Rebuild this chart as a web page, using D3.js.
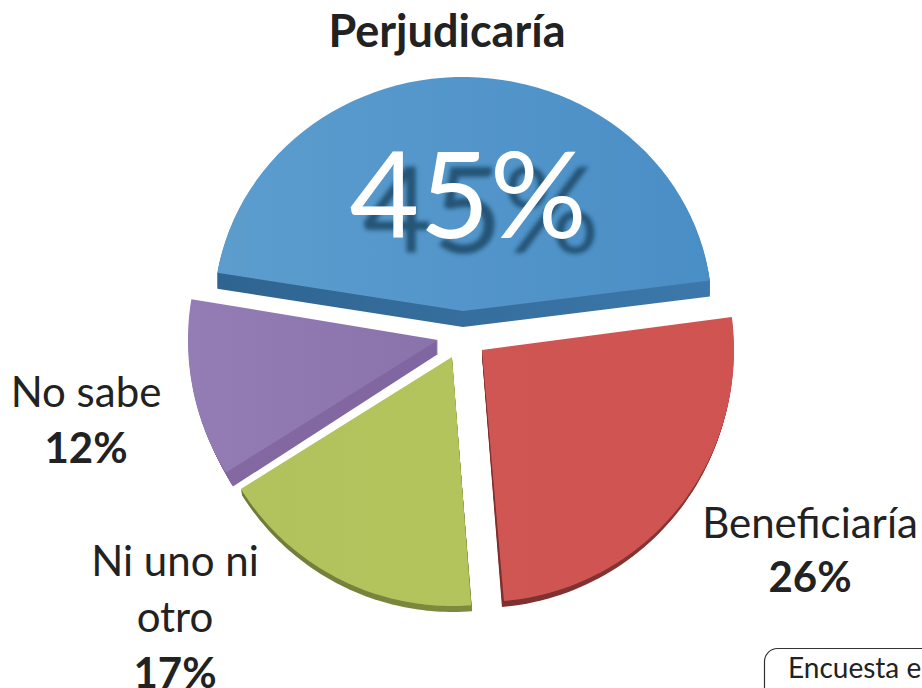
<!DOCTYPE html>
<html><head><meta charset="utf-8">
<style>html,body{margin:0;padding:0;background:#fff;overflow:hidden}svg{display:block}text{font-family:Lato,"Open Sans",sans-serif;fill:#222}</style>
<script src="https://cdn.jsdelivr.net/npm/d3@7"></script>
</head><body>
<script>
const categories = ["Perjudicaría", "Beneficiaría", "Ni uno ni otro", "No sabe"];
const values = [45, 26, 17, 12];
const valueLabels = ["45%", "26%", "17%", "12%"];
const title = "Perjudicaría";
const note = "Encuesta e";

const W = 922, H = 688;
const svg = d3.select("body").append("svg").attr("width", W).attr("height", H);
const defs = svg.append("defs");
const rad = Math.PI / 180;

// per-slice look: apex, squash of the far half, extrusion, small angular nudges from the 3D tilt
const looks = [
  {ax:463, ay:311, r:249, up:.94, dx:0, dy:16, n0:0,   n1:1.1,  c0:"#5c9dce", c1:"#4a8ec6", s0:"#2f6490", s1:"#3c78ab"},
  {ax:482, ay:350, r:252, up:1,   dx:-2,dy:6,  n0:1.1, n1:0,    c0:"#cf5654", c1:"#cf5351", s0:"#7c2f2e", s1:"#8d3533"},
  {ax:452, ay:357, r:249, up:1,   dx:1, dy:6,  n0:.6,  n1:1.8,  c0:"#b1c25e", c1:"#b4c45c", s0:"#6f7a38", s1:"#7f8c3f"},
  {ax:438, ay:340, r:250, up:1,   dx:7, dy:14, n0:1.8, n1:0,    c0:"#947cb5", c1:"#8a73ab", s0:"#8468a2", s1:"#8066a0"}
];

const pie = d3.pie().sort(null).value(d => d)
  .startAngle(-80.6 * rad).endAngle(279.4 * rad);
const arcs = pie(values);

function outline(a, L, off) {
  const n = 60, pts = [[L.ax, L.ay + off]];
  const t0 = a.startAngle + L.n0 * rad, t1 = a.endAngle + L.n1 * rad;
  d3.range(n + 1).forEach(i => {
    const t = t0 + (t1 - t0) * i / n;
    const s = Math.sin(t), c = Math.cos(t);
    pts.push([L.ax + L.r * s + L.dx * off / L.dy, L.ay - L.r * c * (c > 0 ? L.up : 1) + off]);
  });
  return pts;
}
const line = d3.line().curve(d3.curveLinearClosed);

const gBlur = defs.append("filter").attr("id","blur").attr("x","-20%").attr("y","-20%").attr("width","140%").attr("height","140%");
gBlur.append("feGaussianBlur").attr("stdDeviation", 2.2);

const order = [0, 3, 2, 1];
order.forEach(i => {
  const a = arcs[i], L = looks[i];
  const top = defs.append("linearGradient").attr("id","t"+i);
  top.append("stop").attr("offset","0").attr("stop-color",L.c0);
  top.append("stop").attr("offset","1").attr("stop-color",L.c1);
  const side = defs.append("linearGradient").attr("id","s"+i);
  side.append("stop").attr("offset","0").attr("stop-color",L.s0);
  side.append("stop").attr("offset","1").attr("stop-color",L.s1);
  const g = svg.append("g");
  d3.range(L.dy, 0, -1).forEach(k => {
    g.append("path").attr("d", line(outline(a, L, k))).attr("fill", `url(#s${i})`);
  });
  g.append("path").attr("d", line(outline(a, L, 0))).attr("fill", `url(#t${i})`);
});

// title
svg.append("text").attr("x", 447).attr("y", 47).attr("text-anchor","middle")
  .attr("font-size", 45).attr("font-weight", 700).text(title);

// big value with soft shadow
svg.append("text").attr("x", 481).attr("y", 253).attr("text-anchor","middle")
  .attr("font-size", 121).attr("filter","url(#blur)").style("fill","#1f4a68").attr("opacity",.85).text(valueLabels[0]);
svg.append("text").attr("x", 468).attr("y", 238).attr("text-anchor","middle")
  .attr("font-size", 121).style("fill","#fff").text(valueLabels[0]);

function label(x, lines, pct, ys) {
  lines.forEach((t, j) => svg.append("text").attr("x", x).attr("y", ys[j])
    .attr("text-anchor","middle").attr("font-size", 42).text(t));
  svg.append("text").attr("x", x).attr("y", ys[lines.length])
    .attr("text-anchor","middle").attr("font-size", 42).attr("font-weight", 700).text(pct);
}
label(810, [categories[1]], valueLabels[1], [538, 592]);
label(175, ["Ni uno ni", "otro"], valueLabels[2], [576, 632, 688]);
label(86, [categories[3]], valueLabels[3], [407, 463]);

// cut-off note box
svg.append("rect").attr("x", 764.5).attr("y", 648.5).attr("width", 300).attr("height", 100).attr("rx", 13)
  .attr("fill","#fff").attr("stroke","#333").attr("stroke-width",1.2);
svg.append("text").attr("x", 788).attr("y", 678).attr("font-size", 28).text(note);
</script>
</body></html>
